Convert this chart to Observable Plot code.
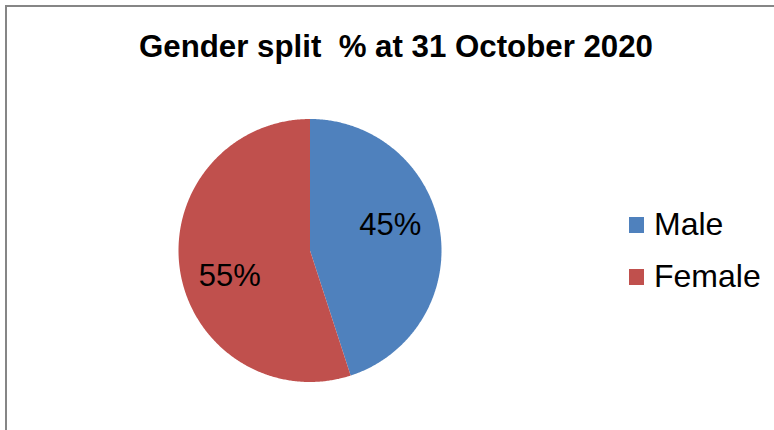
<!DOCTYPE html>
<html>
<head>
<meta charset="utf-8">
<script src="https://cdn.jsdelivr.net/npm/d3@7"></script>
<script src="https://cdn.jsdelivr.net/npm/@observablehq/plot@0.6"></script>
<style>
  html, body { margin: 0; padding: 0; background: #fff; }
  #wrap { position: relative; width: 774px; height: 430px; overflow: hidden; font-family: "Liberation Sans", Arial, sans-serif; }
  #frame { position: absolute; left: 5px; top: 5px; right: -10px; bottom: -10px; border-left: 2px solid #868686; border-top: 2px solid #868686; }
  #chart { position: absolute; left: 0; top: 0; }
  #overlay { position: absolute; left: 0; top: 0; }
</style>
</head>
<body>
<div id="wrap">
  <div id="frame"></div>
  <div id="chart"></div>
  <svg id="overlay" width="774" height="430"></svg>
</div>
<script>
const title = "Gender split  % at 31 October 2020";
const genders = ["Male", "Female"];
const shares = [45, 55];
const colors = ["#4F81BD", "#C0504D"];

const data = genders.map((g, i) => ({gender: g, share: shares[i]}));
const arcs = d3.pie().sort(null).value(d => d.share)(data);

// slice outlines in unit polar coordinates (0 = 12 o'clock, clockwise)
const outline = [];
arcs.forEach(a => {
  const g = a.data.gender;
  outline.push({gender: g, x: 0, y: 0});
  const n = Math.max(2, Math.ceil((a.endAngle - a.startAngle) / (Math.PI / 360)));
  for (let k = 0; k <= n; k++) {
    const t = a.startAngle + (a.endAngle - a.startAngle) * k / n;
    outline.push({gender: g, x: Math.sin(t), y: Math.cos(t)});
  }
  outline.push({gender: g, x: 0, y: 0});
});

const labelShift = 0.15, labelR = 0.64;
const labels = arcs.map(a => {
  const m = (a.startAngle + a.endAngle) / 2 - labelShift;
  return {gender: a.data.gender, text: a.data.share + "%", x: labelR * Math.sin(m), y: labelR * Math.cos(m)};
});

const plot = Plot.plot({
  width: 774,
  height: 430,
  marginLeft: 178,
  marginRight: 333,
  marginTop: 118.5,
  marginBottom: 48.5,
  x: {domain: [-1, 1], axis: null},
  y: {domain: [-1, 1], axis: null},
  color: {domain: genders, range: colors},
  style: {background: "transparent"},
  marks: [
    Plot.line(outline, {x: "x", y: "y", z: "gender", fill: "gender", stroke: null}),
    Plot.text(labels, {x: "x", y: "y", text: "text", fill: "#000", fontSize: 31, fontFamily: "Liberation Sans, Arial, sans-serif"})
  ]
});
document.getElementById("chart").appendChild(plot);

// title and legend
const ov = d3.select("#overlay");
ov.append("text")
  .attr("x", 139).attr("y", 57)
  .attr("font-family", "Liberation Sans, Arial, sans-serif")
  .attr("font-weight", "bold").attr("font-size", 32)
  .attr("fill", "#000")
  .attr("textLength", 514).attr("lengthAdjust", "spacingAndGlyphs")
  .style("white-space", "pre")
  .text(title);

const legendTop = [217, 269];
genders.forEach((g, i) => {
  ov.append("rect").attr("x", 629).attr("y", legendTop[i]).attr("width", 15).attr("height", 16).attr("fill", colors[i]);
  ov.append("text").attr("x", 654).attr("y", legendTop[i] + 18)
    .attr("font-family", "Liberation Sans, Arial, sans-serif").attr("font-size", 32).attr("fill", "#000")
    .text(g);
});
</script>
</body>
</html>
